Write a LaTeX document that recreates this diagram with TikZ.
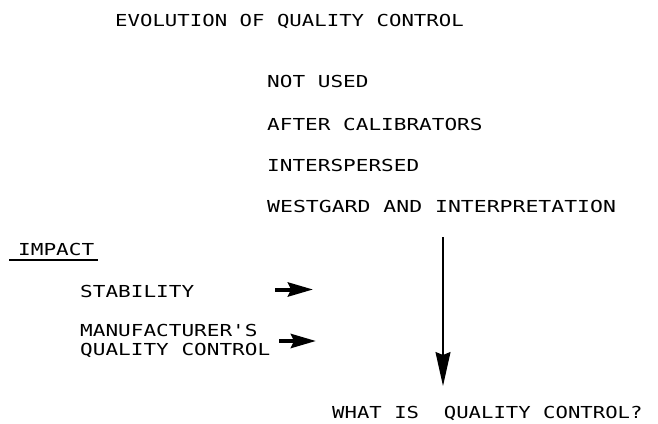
\documentclass[tikz,border=0pt]{standalone}
\usepackage{fontspec}
\setmainfont{DejaVu Sans Mono}[FakeStretch=1.275,Ligatures=TeXOff]
\usetikzlibrary{arrows.meta}
\begin{document}
\begin{tikzpicture}[x=1pt,y=-1pt,
  txt/.style={anchor=base west,inner sep=0pt,font=\fontsize{16.5}{19}\selectfont},
  bigarrow/.style={line width=4pt,-{Stealth[length=25pt,width=14pt,inset=3pt]}},
  downarrow/.style={line width=1.4pt,-{Stealth[length=34pt,width=15pt,inset=3pt]}}]
\useasboundingbox[fill=white] (0,0) rectangle (658,423);
\node[txt] (title) at (115,27) {\scalebox{0.983}[1]{EVOLUTION OF QUALITY CONTROL}};
\node[txt] (notused) at (267,87) {NOT USED};
\node[txt] (after) at (267,130) {AFTER CALIBRATORS};
\node[txt] (inter) at (267,171) {INTERSPERSED};
\node[txt] (west) at (267,212) {\scalebox{1.02}[1]{WESTGARD AND INTERPRETATION}};
\node[txt] (impact) at (18,255) {IMPACT};
\node[txt] (stab) at (80,297) {STABILITY};
\node[txt] (manu) at (80,336) {MANUFACTURER'S};
\node[txt] (qc) at (80,355) {QUALITY CONTROL};
\node[txt] (what) at (332,418) {\scalebox{0.98}[1]{WHAT IS\ \ QUALITY CONTROL?}};
\coordinate (ul1) at (9,260);
\coordinate (ul2) at (98,260);
\draw[line width=1.2pt] (ul1) -- (ul2);
\coordinate (a1s) at (275,289.5);
\coordinate (a1e) at (313,289.5);
\coordinate (a2s) at (279,341);
\coordinate (a2e) at (316,341);
\draw[bigarrow] (a1s) -- (a1e);
\draw[bigarrow] (a2s) -- (a2e);
\coordinate (vs) at (443,237);
\coordinate (ve) at (443,386);
\draw[downarrow] (vs) -- (ve);
\end{tikzpicture}
\end{document}
